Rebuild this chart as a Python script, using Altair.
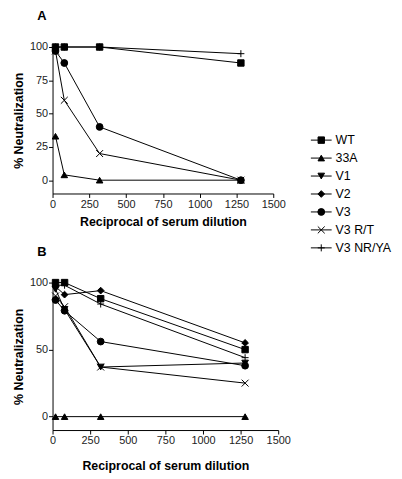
import altair as alt
import pandas as pd

dilution = [20, 80, 320, 1280]
series_order = ["WT", "33A", "V1", "V2", "V3", "V3 R/T", "V3 NR/YA"]

# Panel A
a_wt = [100, 100, 100, 88]
a_33a = [33, 4, 0, 0]
a_v3 = [97, 88, 40, 0]
a_v3rt = [97, 60, 20, 0]
a_v3nrya = [100, 100, 100, 95]

# Panel B
b_wt = [100, 100, 88, 50]
b_33a = [0, 0, 0, 0]
b_v1 = [95, 80, 37, 40]
b_v2 = [97, 91, 94, 55]
b_v3 = [87, 79, 56, 38]
b_v3rt = [90, 82, 37, 25]
b_v3nrya = [98, 98, 84, 44]

x_ticks = [0, 250, 500, 750, 1000, 1250, 1500]

shape_range = [
    "square", "triangle-up", "triangle-down", "diamond", "circle",
    "M-1,-1L1,1M-1,1L1,-1", "M-1,0L1,0M0,-1L0,1",
]
size_range = [42, 50, 45, 25, 45, 45, 60]

FONT = "Liberation Sans"


def make_df(pairs):
    rows = []
    for name, vals in pairs:
        for d, v in zip(dilution, vals):
            rows.append({"series": name, "dilution": d, "neut": v})
    return pd.DataFrame(rows)


df_a = make_df([("WT", a_wt), ("33A", a_33a), ("V3", a_v3), ("V3 R/T", a_v3rt), ("V3 NR/YA", a_v3nrya)])
df_b = make_df([("WT", b_wt), ("33A", b_33a), ("V1", b_v1), ("V2", b_v2), ("V3", b_v3),
                ("V3 R/T", b_v3rt), ("V3 NR/YA", b_v3nrya)])

shape_scale = alt.Scale(domain=series_order, range=shape_range)
size_scale = alt.Scale(domain=series_order, range=size_range)


def panel_layer(df, yticks, xtitle_pad):
    base = alt.Chart(df).encode(
        x=alt.X("dilution:Q", scale=alt.Scale(domain=[0, 1500], nice=False),
                axis=alt.Axis(values=x_ticks, format="d", labelOverlap=False, labelFlush=False,
                              title="Reciprocal of serum dilution", titlePadding=xtitle_pad)),
        y=alt.Y("neut:Q", scale=alt.Scale(domain=[-10, 100], nice=False),
                axis=alt.Axis(values=yticks, title="% Neutralization", titlePadding=4)),
        detail="series:N",
    )
    lines = base.mark_line(color="black", strokeWidth=1).encode(order="dilution:Q")
    pts = base.mark_point(filled=True, fill="black", stroke="black", strokeWidth=1, opacity=1).encode(
        shape=alt.Shape("series:N", scale=shape_scale, legend=None),
        size=alt.Size("series:N", scale=size_scale, legend=None),
    )
    return alt.layer(lines, pts)


def title(letter):
    return alt.TitleParams(letter, anchor="start", frame="bounds", dx=25, fontSize=13,
                           fontWeight="bold", font=FONT, offset=18)


# legend drawn beside panel A
legend_df = pd.DataFrame({"series": series_order})
lbase = alt.Chart(legend_df).encode(
    y=alt.Y("series:N", sort=series_order, axis=None,
            scale=alt.Scale(range=[85, 212], padding=0)),
)
lrule = lbase.mark_rule(color="black", strokeWidth=1).encode(x=alt.value(261), x2=alt.value(282))
lpts = lbase.mark_point(filled=True, fill="black", stroke="black", strokeWidth=1, opacity=1).encode(
    x=alt.value(271.5),
    shape=alt.Shape("series:N", scale=shape_scale, legend=None),
    size=alt.Size("series:N", scale=size_scale, legend=None),
)
ltext = lbase.mark_text(align="left", baseline="middle", fontSize=12.5, font=FONT, color="black").encode(
    x=alt.value(286), text="series:N"
)
legend = alt.layer(lrule, lpts, ltext)

pa = alt.layer(panel_layer(df_a, [0, 25, 50, 75, 100], 6), legend).resolve_scale(
    y="independent").properties(width=223, height=148, title=title("A"))

pb = panel_layer(df_b, [0, 50, 100], 14).properties(width=228, height=149, title=title("B"))

chart = alt.vconcat(pa, pb, spacing=90, bounds="flush").properties(
    padding={"left": 4, "top": 0, "right": 2, "bottom": 0}
).configure_view(stroke=None).configure_axis(
    grid=False, domainColor="black", tickColor="black", tickSize=4,
    labelFont=FONT, labelFontSize=11, labelColor="#222", labelPadding=1,
    titleFont=FONT, titleFontSize=12.5, titleFontWeight="bold", titleColor="black",
).configure_title(font=FONT)

chart.save("out.html", embed_options={"renderer": "svg", "actions": False})
